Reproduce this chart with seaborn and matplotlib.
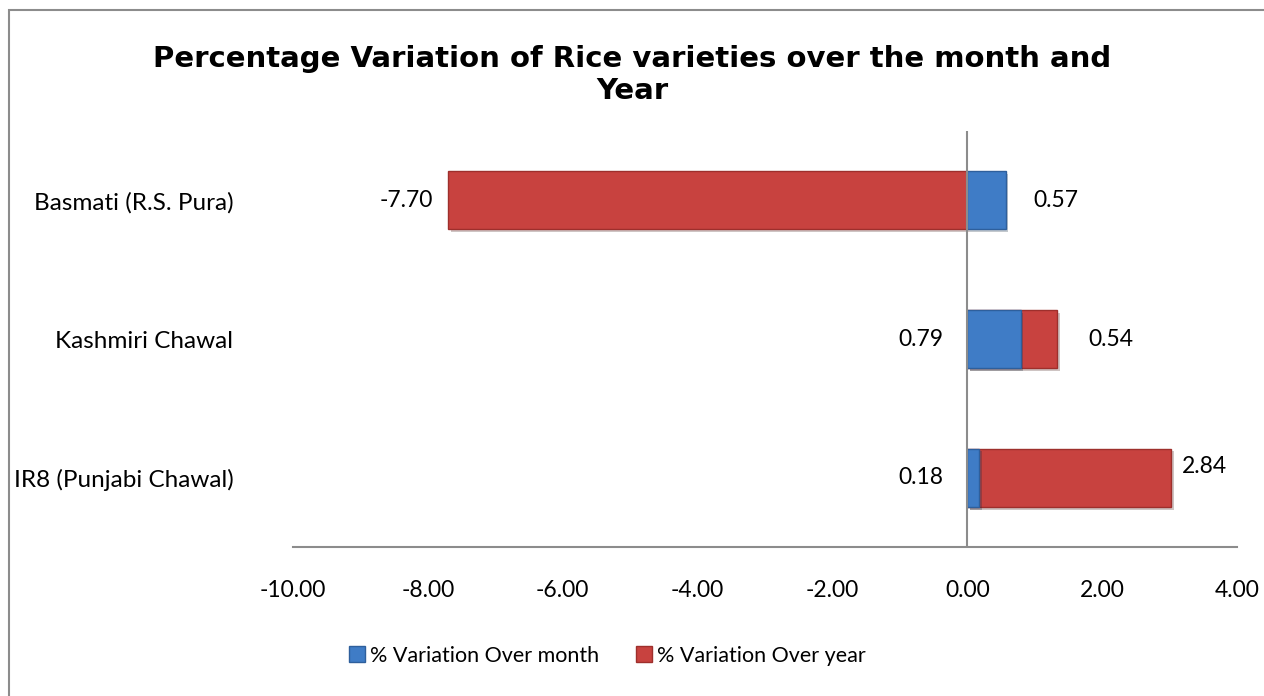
import pandas as pd
import matplotlib.pyplot as plt
import seaborn as sns
import matplotlib.patheffects as pe
from matplotlib.patches import Rectangle
from matplotlib.ticker import FormatStrFormatter
from matplotlib.lines import Line2D

sns.set_theme(style="white")
plt.rcParams['font.family'] = ['Lato', 'DejaVu Sans']
plt.rcParams['text.color'] = 'black'

# data
varieties = ["Basmati (R.S. Pura)", "Kashmiri Chawal", "IR8 (Punjabi Chawal)"]
over_month = [0.57, 0.79, 0.18]
over_year = [-7.70, 0.54, 2.84]

blue = "#3F7CC6"
red = "#C8423F"

df = pd.DataFrame({"Variety": varieties, "month": over_month, "year": over_year})
# stacked: positive year values sit on top of the month bar, negatives start at 0
df["year_end"] = [m + y if y > 0 else y for m, y in zip(df["month"], df["year"])]

fig = plt.figure(figsize=(12.64, 6.96), dpi=100)
ax = fig.add_axes([293 / 1264, 1 - 547 / 696, (1237 - 293) / 1264, (547 - 131) / 696])

shadow = [pe.SimplePatchShadow(offset=(2, -2), alpha=0.25), pe.Normal()]
sns.barplot(data=df, y="Variety", x="year_end", orient="h", color=red, width=0.42,
            edgecolor="#9E2F2C", linewidth=1.0, ax=ax, saturation=1)
sns.barplot(data=df, y="Variety", x="month", orient="h", color=blue, width=0.42,
            edgecolor="#2E5F9C", linewidth=1.0, ax=ax, saturation=1)
for p in ax.patches:
    p.set_path_effects(shadow)

ax.set_xlim(-10, 4)
ax.set_ylim(2.5, -0.5)
ax.set_xticks([-10, -8, -6, -4, -2, 0, 2, 4])
ax.xaxis.set_major_formatter(FormatStrFormatter('%.2f'))
ax.set_xlabel("")
ax.set_ylabel("")
ax.tick_params(axis="x", length=0, pad=24, labelsize=16.5, colors="black")
ax.tick_params(axis="y", length=0, pad=43, labelsize=17.5, colors="black")
for lab in ax.get_yticklabels():
    lab.set_horizontalalignment("right")

for s in ["top", "right", "left"]:
    ax.spines[s].set_visible(False)
ax.spines["bottom"].set_color("#8C8C8C")
ax.spines["bottom"].set_linewidth(1.5)
ax.axvline(0, color="#8C8C8C", lw=1.5, zorder=3)

# value labels (Excel-like placement)
# (value, reference x, x offset px, y offset px, ha, row)
month_ref = list(df["month"])
year_ref = list(df["year_end"])
label_specs = [
    (over_year[0], year_ref[0], -15, 0, "right", 0),
    (over_month[0], month_ref[0], 28, 0, "left", 0),
    (over_month[1], 0, -24, 0, "right", 1),
    (over_year[1], year_ref[1], 31, 0, "left", 1),
    (over_month[2], 0, -24, 0, "right", 2),
    (over_year[2], year_ref[2], 11, 11, "left", 2),
]
for val, xref, dx, dy, ha, yi in label_specs:
    ax.annotate(f"{val:.2f}", (xref, yi), xytext=(dx * 0.72, dy * 0.72),
                textcoords="offset points", ha=ha, va="center", fontsize=16.5, color="black")

fig.text(0.5, 1 - 75 / 696, "Percentage Variation of Rice varieties over the month and\nYear",
         ha="center", va="center", fontsize=21, fontweight="bold", family="DejaVu Sans",
         linespacing=1.2, color="black")

handles = [Line2D([], [], marker="s", ls="", markersize=11, markerfacecolor=blue, markeredgecolor="#2E5F9C"),
           Line2D([], [], marker="s", ls="", markersize=11, markerfacecolor=red, markeredgecolor="#9E2F2C")]
fig.legend(handles, ["% Variation Over month", "% Variation Over year"], loc="center",
           bbox_to_anchor=(606 / 1264, 1 - 656 / 696), ncol=2, frameon=False, fontsize=15.5,
           handletextpad=0.1, columnspacing=1.6, handlelength=1.0)

fig.patches.append(Rectangle((9 / 1264, -0.01), 1.0, 1 - 10 / 696 + 0.01, transform=fig.transFigure,
                             fill=False, edgecolor="#8C8C8C", lw=1.5))

fig.savefig("out.png", dpi=100)
